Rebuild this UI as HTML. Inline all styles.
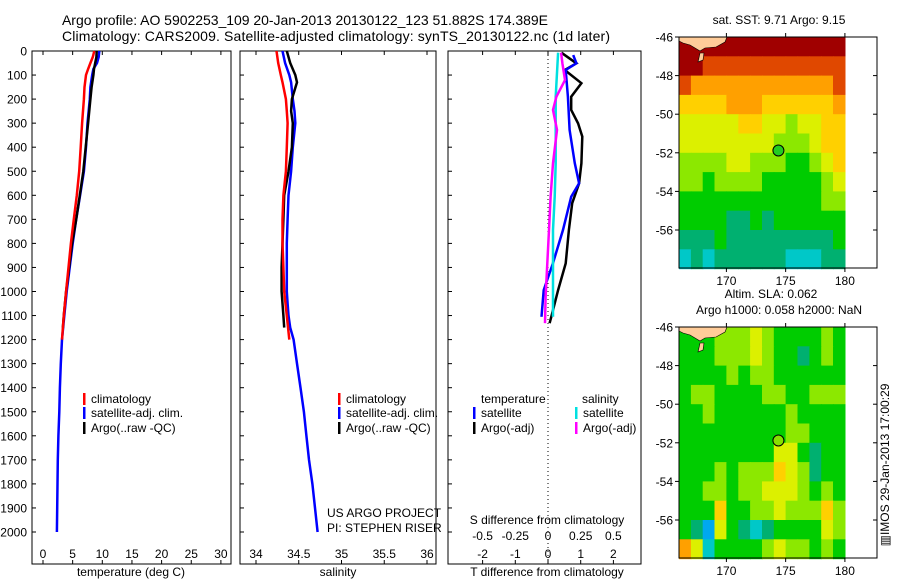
<!DOCTYPE html>
<html><head><meta charset="utf-8"><style>
body{margin:0;background:#fff;}
svg{display:block;font-family:"Liberation Sans",sans-serif;}
text{fill:#000;}
</style></head><body>
<svg id="fig" width="900" height="580" viewBox="0 0 900 580" xmlns="http://www.w3.org/2000/svg">
<text x="305" y="25" font-size="14" text-anchor="middle" textLength="486">Argo profile: AO 5902253_109 20-Jan-2013 20130122_123 51.882S 174.389E</text>
<text x="336" y="41" font-size="14" text-anchor="middle" textLength="548">Climatology: CARS2009. Satellite-adjusted climatology: synTS_20130122.nc (1d later)</text>
</svg>
<script>
// ---- Data ----
const depthT = [0,25,50,75,100,150,200,300,400,500,600,700,800,900,1000,1100,1200];
const tempClim = [8.65,8.4,8.0,7.6,7.25,7.0,6.9,6.6,6.35,6.1,5.7,5.2,4.7,4.3,3.9,3.5,3.2];
const depthArgoT = [0,25,50,75,100,150,200,300,400,500,600,700,800,900,1000,1100,1150];
const tempArgo = [9.05,9.0,8.8,8.6,8.5,8.2,8.0,7.6,7.2,6.8,6.2,5.6,4.9,4.4,3.9,3.5,3.35];
const depthSat = [0,25,50,75,100,150,200,300,400,500,600,700,800,900,1000,1100,1200,1300,1400,1500,1600,1700,1800,1900,2000];
const tempSat = [9.5,9.4,9.1,8.5,8.3,8.0,7.9,7.5,7.25,6.9,6.25,5.6,5.0,4.5,4.0,3.6,3.2,3.0,2.85,2.75,2.6,2.5,2.45,2.4,2.35];
const depthS = [0,50,100,130,200,250,300,400,500,600,700,800,900,1000,1100,1200];
const salClim = [34.24,34.26,34.29,34.31,34.35,34.36,34.37,34.36,34.35,34.32,34.31,34.31,34.32,34.33,34.36,34.39];
const depthArgoS = [0,50,100,130,200,250,300,400,500,600,700,800,900,1000,1100,1150];
const salArgo = [34.36,34.40,34.46,34.48,34.42,34.41,34.43,34.42,34.38,34.33,34.32,34.31,34.30,34.30,34.32,34.33];
const salSat = [34.31,34.34,34.39,34.41,34.43,34.45,34.46,34.43,34.41,34.38,34.37,34.36,34.36,34.36,34.37,34.38,34.40,34.44,34.48,34.52,34.56,34.59,34.62,34.66,34.69,34.72];
const depthSatS = [0,50,100,130,200,250,300,400,500,600,700,800,900,1000,1050,1100,1150,1200,1300,1400,1500,1600,1700,1800,1900,2000];
const depthDT = [17,51,79,190,328,467,550,606,744,883,994,1105];
const dTsat = [0.77,0.87,0.54,0.61,0.66,0.82,0.95,0.71,0.46,0.15,-0.13,-0.2];
const depthDTa = [7,51,79,134,190,245,301,356,467,550,633,744,883,994,1105,1132];
const dTargo = [0.41,0.87,0.51,1.02,0.71,0.71,0.92,1.05,1.02,0.95,0.74,0.64,0.54,0.31,0.10,0.05];
const depthDS = [7,190,467,606,744,883,1105];
const dSsat = [0.077,0.059,0.059,0.051,0.038,0.038,0.038];
const depthDSa = [7,51,121,190,245,328,467,606,744,1022,1132];
const dSargo = [0.10,0.11,0.13,0.064,0.038,0.069,0.038,0.02,0.008,-0.018,-0.023];
const depthTicks = [0,100,200,300,400,500,600,700,800,900,1000,1100,1200,1300,1400,1500,1600,1700,1800,1900,2000];
const tempTicks = [0,5,10,15,20,25,30];
const salTicks = [34,34.5,35,35.5,36];
const salTickLabels = ["34","34.5","35","35.5","36"];
const dTTicks = [-2,-1,0,1,2];
const dSTicks = [-0.5,-0.25,0,0.25,0.5];
const latTicks = [-46,-48,-50,-52,-54,-56];
const lonTicks = [170,175,180];
const sstGrid = [
[10,10,10,10,10,10,10,10,10,10,10,10,10,10],
[10,10,9,9,9,9,9,9,9,9,9,9,9,9],
[9,8,8,8,8,8,8,8,8,8,8,8,8,9],
[7,7,7,7,8,8,8,7,7,7,7,7,7,8],
[6,6,6,6,6,7,7,6,6,5,6,6,7,7],
[6,6,6,6,6,6,6,6,5,5,5,6,7,7],
[5,5,5,5,6,6,5,5,5,4,4,5,6,7],
[5,5,4,5,5,5,5,4,4,4,4,4,5,6],
[4,4,4,4,4,4,4,4,4,4,4,4,5,5],
[4,4,4,4,3,3,4,3,4,4,4,4,4,4],
[3,3,3,4,3,3,3,3,3,3,3,3,3,4],
[2,3,2,3,3,3,3,3,3,2,2,2,3,3]];
const slaGrid = [
[4,4,4,5,5,5,6,5,4,4,4,4,5,4],
[4,4,4,5,5,5,6,5,4,4,3,4,5,4],
[4,4,4,4,5,4,5,5,4,4,4,4,4,4],
[4,5,5,4,4,4,4,5,5,4,4,5,5,5],
[4,4,5,4,4,4,4,4,4,5,4,4,4,4],
[4,4,4,4,4,4,4,4,4,5,5,4,4,4],
[4,4,4,4,4,4,4,4,6,6,4,3,4,4],
[4,4,4,5,4,5,5,5,7,6,5,3,4,4],
[4,4,5,5,4,5,5,6,6,6,5,4,5,4],
[4,4,4,7,4,4,5,5,6,5,5,5,7,5],
[4,3,1,6,4,3,2,3,4,4,4,4,6,5],
[8,6,2,4,4,4,4,5,6,5,5,4,5,4]];
const argoLon = 174.389, argoLat = -51.882;

// ---- helpers ----
const NS = "http://www.w3.org/2000/svg";
const svg = document.getElementById('fig');
function mk(tag, attrs, parent){const e=document.createElementNS(NS,tag);for(const k in attrs)e.setAttribute(k,attrs[k]);(parent||svg).appendChild(e);return e;}
function txt(x,y,s,size,anchor,parent){const t=mk('text',{x:x,y:y,'font-size':size||12,'text-anchor':anchor||'start'},parent);t.textContent=s;return t;}
const yD = d => 51 + d*0.2405;
const xT = v => 43 + v*5.93;
const xS = v => 256 + (v-34)*85.5;
const xDT = v => 548 + v*32.7;
const xDS = v => 548 + v*130.8;
function line(xs, ds, fx, color, name, w){
  const pts = xs.map((v,i)=>fx(v).toFixed(1)+','+yD(ds[i]).toFixed(1)).join(' ');
  const p = mk('polyline',{points:pts,fill:'none',stroke:color,'stroke-width':w||2.5,'stroke-linejoin':'miter'});
  
  
}
function panel(x0,x1,name){
  const r = mk('rect',{x:x0,y:51,width:x1-x0,height:513,fill:'none',stroke:'#000','stroke-width':1});
  
  
}
panel(32,231,'temperature-panel');
panel(240,436,'salinity-panel');
panel(448,641,'difference-panel');
depthTicks.forEach(d=>{
  const y=yD(d);
  [32,240,448].forEach(x0=>mk('line',{x1:x0,y1:y,x2:x0+4,y2:y,stroke:'#000'}));
  const t=txt(27,y+4.5,String(d),12,'end');
  
  
});
function xticks(vals, fx, labels, ylab){
  vals.forEach((v,i)=>{
    const x=fx(v);
    mk('line',{x1:x,y1:564,x2:x,y2:560,stroke:'#000'});
    mk('line',{x1:x,y1:51,x2:x,y2:55,stroke:'#000'});
    const t=txt(x,ylab,labels?labels[i]:String(v),12,'middle');
    
    
  });
}
xticks(tempTicks,xT,null,558);
xticks(salTicks,xS,salTickLabels,558);
xticks(dTTicks,xDT,null,558);
dSTicks.forEach(v=>{
  const t=txt(xDS(v),540,'',12,'middle');
  t.textContent = (v<0?'-':'')+String(Math.abs(v));
  
  
});
let t;
t=txt(131,576,'temperature (deg C)',12,'middle');
t=txt(338,576,'salinity',12,'middle');
t=txt(547,576,'T difference from climatology',12,'middle');
t=txt(547,524,'S difference from climatology',12,'middle');
t=txt(327,517,'US ARGO PROJECT',12);
t=txt(327,532,'PI: STEPHEN RISER',12);
const zl=mk('line',{x1:548,y1:51,x2:548,y2:564,stroke:'#000','stroke-dasharray':'1,3'});

line(tempSat,depthSat,xT,'#0000ff','temp-satellite-line');
line(tempArgo,depthArgoT,xT,'#000','temp-argo-line');
line(tempClim,depthT,xT,'#ff0000','temp-climatology-line');
line(salSat,depthSatS,xS,'#0000ff','sal-satellite-line');
line(salArgo,depthArgoS,xS,'#000','sal-argo-line');
line(salClim,depthS,xS,'#ff0000','sal-climatology-line');
line(dTargo,depthDTa,xDT,'#000','tdiff-argo-line');
line(dTsat,depthDT,xDT,'#0000ff','tdiff-satellite-line');
line(dSsat,depthDS,xDS,'#00e0e0','sdiff-satellite-line');
line(dSargo,depthDSa,xDS,'#ff00ff','sdiff-argo-line');
function leg(x,y,color,label,name){
  mk('rect',{x:x,y:y-10,width:2.5,height:12,fill:color});
  const tt=txt(x+8,y,label,12);
  
  
}
leg(83,403,'#ff0000','climatology','legend-climatology');
leg(83,417,'#0000ff','satellite-adj. clim.','legend-satellite');
leg(83,432,'#000','Argo(..raw -QC)','legend-argo');
leg(338,403,'#ff0000','climatology','legend-sal-climatology');
leg(338,417,'#0000ff','satellite-adj. clim.','legend-sal-satellite');
leg(338,432,'#000','Argo(..raw -QC)','legend-sal-argo');
t=txt(481,403,'temperature',12);
t=txt(582,403,'salinity',12);
leg(473,417,'#0000ff','satellite','legend-t-satellite');
leg(473,432,'#000','Argo(-adj)','legend-t-argo');
leg(575,417,'#00e0e0','satellite','legend-s-satellite');
leg(575,432,'#ff00ff','Argo(-adj)','legend-s-argo');

// ---- maps ----
const palette=['#0030c8','#00a8f0','#00c8c8','#00b070','#00cc00','#8ce800','#dcf000','#ffd000','#ffa000','#e04800','#a00000'];
function map(top, grid, title1, title2, mname, markerFill){
  const lx = v => 679 + (v-166)*11.85;
  const ly = v => top + (-46 - v)*19.3;
  const g=mk('g',{});
  
  
  grid.forEach((row,r)=>row.forEach((v,c)=>{
    const x0=lx(166+c), y0=ly(-46-r);
    const w=lx(167+c)-x0, h=ly(-47-r)-y0;
    const cell=mk('rect',{x:x0.toFixed(1),y:y0.toFixed(1),width:(w+0.6).toFixed(1),height:(h+0.6).toFixed(1),fill:palette[v]},g);
    
    
  }));
  const land=mk('path',{d:`M679,${top} L727,${top} L725,${top+5} L716,${top+10} L705,${top+11} L700,${top+14} L690,${top+8} L683,${top+6} L679,${top+4} Z`,fill:'#ffcc99',stroke:'#000','stroke-width':0.6},g);
  
  
  const isl=mk('path',{d:`M700,${top+16} L704,${top+16} L703,${top+23} L698,${top+25} Z`,fill:'#ffcc99',stroke:'#000','stroke-width':0.6},g);
  
  
  const frame=mk('rect',{x:679,y:top,width:198,height:231,fill:'none',stroke:'#000'});
  
  
  latTicks.forEach(v=>{
    const y=ly(v);
    mk('line',{x1:679,y1:y,x2:675,y2:y,stroke:'#000'});
    mk('line',{x1:877,y1:y,x2:873,y2:y,stroke:'#000'});
    const tt=txt(673,y+4.5,String(v),12,'end');
    
    
  });
  lonTicks.forEach(v=>{
    const x=lx(v);
    mk('line',{x1:x,y1:top+231,x2:x,y2:top+235,stroke:'#000'});
    mk('line',{x1:x,y1:top,x2:x,y2:top-4,stroke:'#000'});
    const tt=txt(x,top+248,String(v),12,'middle');
    
    
  });
  const m=mk('circle',{cx:lx(argoLon),cy:ly(argoLat),r:5.5,fill:markerFill,stroke:'#000','stroke-width':1});
  
  
  let a=txt(779,top-13,title1,12,'middle');
  
  
  if(title2){
    a=txt(771,top-29,title2,12,'middle');
    
    
  }
}
map(37,sstGrid,'sat. SST: 9.71  Argo: 9.15',null,'sst-map','#22cc22');
map(327,slaGrid,'Argo h1000: 0.058 h2000: NaN','Altim. SLA: 0.062','sla-map','#88e000');
const side=txt(0,0,'\u25A5IMOS 29-Jan-2013 17:00:29',12,'middle');
side.setAttribute('transform','translate(889,465) rotate(-90)');


</script>
</body></html>
